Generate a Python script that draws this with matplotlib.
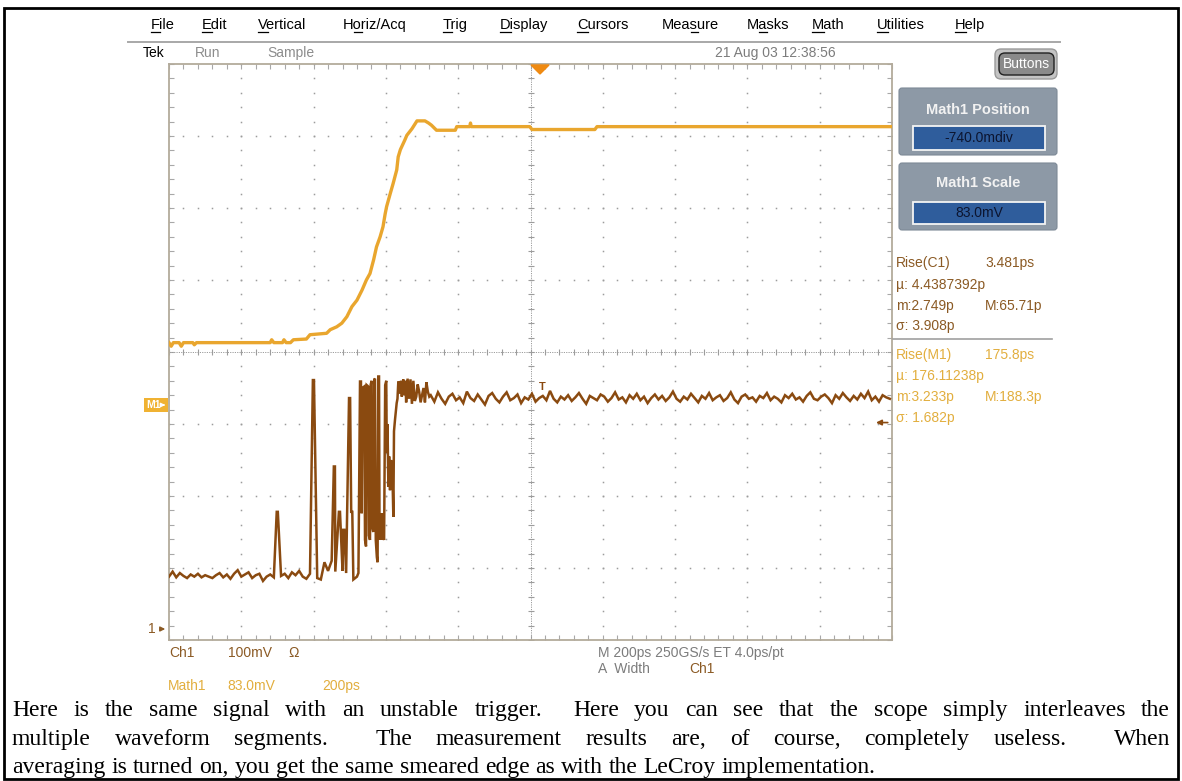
import re
import numpy as np
import matplotlib
matplotlib.use('Agg')
import matplotlib.pyplot as plt
from matplotlib.patches import Rectangle, FancyBboxPatch, Polygon
from matplotlib.font_manager import FontProperties

W, H = 1182, 781

# ---------------- data (divisions) ----------------
# Math1 (averaged, yellow) trace
math1_x = [0.00, 0.03, 0.06, 0.14, 0.17, 0.20, 0.33, 0.35, 0.38, 1.40,
           1.42, 1.45, 1.57, 1.59, 1.62, 1.68, 1.72, 1.90, 1.95, 2.18,
           2.23, 2.32, 2.39, 2.46, 2.53, 2.60, 2.67, 2.73, 2.78, 2.83,
           2.87, 2.92, 2.96, 2.99, 3.01, 3.06, 3.10, 3.15, 3.17, 3.20,
           3.26, 3.29, 3.36, 3.43, 3.54, 3.59, 3.63, 3.70, 3.96, 3.98,
           4.16, 4.17, 4.18, 4.99, 5.02, 5.89, 5.92, 10.0]
math1_y = [4.13, 4.08, 4.13, 4.13, 4.08, 4.13, 4.13, 4.10, 4.13, 4.13,
           4.17, 4.13, 4.13, 4.17, 4.13, 4.13, 4.17, 4.18, 4.24, 4.26,
           4.31, 4.35, 4.40, 4.49, 4.63, 4.72, 4.86, 5.00, 5.09, 5.28,
           5.46, 5.60, 5.74, 5.92, 6.02, 6.20, 6.34, 6.53, 6.71, 6.81,
           6.94, 7.01, 7.10, 7.21, 7.21, 7.18, 7.15, 7.08, 7.08, 7.13,
           7.13, 7.18, 7.13, 7.13, 7.09, 7.09, 7.13, 7.13]

# Ch1 (interleaved, brown) trace
ch1_step = 0.05
ch1_left_start = 0.0
ch1_left_y = [0.88, 0.95, 0.87, 0.93, 0.89, 0.86, 0.91, 0.88, 0.92, 0.87,
              0.90, 0.88, 0.86, 0.90, 0.93, 0.87, 0.91, 0.85, 0.92, 0.97,
              0.88, 0.91, 0.94, 0.86, 0.90, 0.92, 0.82, 0.88, 0.91, 0.87,
              0.93, 0.89, 0.92, 0.86, 0.94, 0.90, 0.96, 0.88, 0.85, 0.92,
              0.90, 0.86, 0.84, 1.08, 0.96, 1.10, 0.95, 0.92, 0.96, 0.93,
              0.95, 0.84, 0.88]
ch1_spike_x = [1.49, 1.99, 2.28, 2.35, 2.41, 2.49, 2.52]
ch1_spike_top = [1.78, 3.61, 2.41, 1.78, 1.53, 3.36, 1.78]
ch1_edge_x = [2.62, 2.642, 2.655, 2.665, 2.675, 2.70, 2.711, 2.725, 2.735, 2.757,
              2.765, 2.78, 2.79, 2.803, 2.81, 2.825, 2.84, 2.849, 2.86, 2.875,
              2.885, 2.895, 2.905, 2.912, 2.925, 2.935, 2.945, 2.955, 2.965, 2.975,
              2.99, 3.005, 3.012, 3.022, 3.034, 3.045, 3.057, 3.07, 3.09, 3.103,
              3.112, 3.126, 3.149, 3.16, 3.172, 3.19, 3.21, 3.22, 3.24, 3.25,
              3.27, 3.28, 3.30, 3.32, 3.34, 3.36, 3.38, 3.40, 3.42, 3.44,
              3.46, 3.48, 3.50, 3.52, 3.54, 3.56, 3.58, 3.60]
ch1_edge_y = [0.93, 3.59, 3.59, 1.76, 3.50, 3.52, 1.39, 1.30, 3.54, 3.52,
              1.45, 1.39, 3.55, 3.60, 1.57, 1.50, 3.62, 3.63, 1.39, 1.15,
              1.08, 3.66, 3.66, 1.39, 1.55, 1.76, 1.39, 1.76, 1.42, 1.39,
              3.54, 3.60, 2.60, 3.00, 2.13, 2.55, 2.08, 2.50, 2.32, 1.71,
              2.90, 3.06, 3.29, 3.35, 3.59, 3.42, 3.60, 3.38, 3.62, 3.40,
              3.60, 3.30, 3.63, 3.35, 3.62, 3.28, 3.60, 3.32, 3.38, 3.55,
              3.45, 3.30, 3.40, 3.50, 3.30, 3.58, 3.45, 3.38]
ch1_right_start = 3.62
ch1_right_y = [3.40, 3.31, 3.44, 3.35, 3.28, 3.38, 3.42, 3.33, 3.37, 3.29,
               3.45, 3.36, 3.32, 3.41, 3.34, 3.27, 3.39, 3.43, 3.35, 3.30,
               3.38, 3.44, 3.33, 3.36, 3.41, 3.29, 3.37, 3.34, 3.42, 3.31,
               3.36, 3.39, 3.33, 3.46, 3.35, 3.30, 3.38, 3.34, 3.40, 3.32,
               3.37, 3.43, 3.35, 3.28, 3.39, 3.36, 3.33, 3.41, 3.38, 3.31,
               3.36, 3.44, 3.34, 3.37, 3.30, 3.40, 3.35, 3.42, 3.33, 3.38,
               3.29, 3.36, 3.41, 3.34, 3.39, 3.32, 3.37, 3.45, 3.35, 3.31,
               3.38, 3.34, 3.42, 3.36, 3.30, 3.39, 3.35, 3.43, 3.33, 3.37,
               3.40, 3.32, 3.36, 3.44, 3.34, 3.29, 3.38, 3.41, 3.35, 3.37,
               3.31, 3.39, 3.36, 3.43, 3.33, 3.38, 3.35, 3.30, 3.40, 3.36,
               3.42, 3.34, 3.37, 3.31, 3.39, 3.44, 3.35, 3.33, 3.38, 3.41,
               3.36, 3.29, 3.40, 3.35, 3.43, 3.37, 3.32, 3.39, 3.34, 3.42,
               3.36, 3.45, 3.33, 3.38, 3.31, 3.40, 3.37, 3.35]

menu_items = ['File', 'Edit', 'Vertical', 'Horiz/Acq', 'Trig', 'Display',
              'Cursors', 'Measure', 'Masks', 'Math', 'Utilities', 'Help']
menu_underline = [0, 0, 0, 1, 0, 0, 0, 3, 1, 0, 0, 0]

meas_c1 = [('Rise(C1)', '3.481ps'), ('µ: 4.4387392p', ''),
           ('m:2.749p', 'M:65.71p'), ('σ: 3.908p', '')]
meas_m1 = [('Rise(M1)', '175.8ps'), ('µ: 176.11238p', ''),
           ('m:3.233p', 'M:188.3p'), ('σ: 1.682p', '')]

para_lines = [
    "Here is the same signal with an unstable trigger.  Here you can see that the scope simply interleaves the",
    "multiple waveform segments.  The measurement results are, of course, completely useless.  When",
    "averaging is turned on, you get the same smeared edge as with the LeCroy implementation.",
]

# ---------------- colours ----------------
YEL = '#e9a62e'
BRN = '#8a4a10'
BRN_T = '#8b5a24'
YEL_T = '#e2ae3e'
GRID = '#9c9c9c'
GRAY_T = '#7c7c7c'

fig = plt.figure(figsize=(W / 100, H / 100), dpi=100)
fig.patch.set_facecolor('white')

# ---------------- graticule ----------------
ax = fig.add_axes([169 / W, 1 - 640 / H, 723 / W, 576 / H])
ax.set_xlim(0, 10)
ax.set_ylim(0, 8)
ax.set_facecolor('white')
for s in ax.spines.values():
    s.set_color('#b3ab9b')
    s.set_linewidth(1.3)
ax.set_xticks(np.arange(0, 10.01, 1))
ax.set_xticks(np.arange(0, 10.01, 0.2), minor=True)
ax.set_yticks(np.arange(0, 8.01, 1))
ax.set_yticks(np.arange(0, 8.01, 0.2), minor=True)
ax.tick_params(which='both', direction='in', top=True, right=True, bottom=True,
               left=True, length=3.5, width=0.8, color='#a8a8a8',
               labelbottom=False, labelleft=False)

fx = np.arange(0, 10.001, 0.2)
fy = np.arange(0, 8.001, 0.2)
for gy in [1, 2, 3, 5, 6, 7]:
    ax.plot(fx, np.full_like(fx, gy), ls='none', marker='s', ms=1.1, mew=0, color=GRID)
for gx in [1, 2, 3, 4, 6, 7, 8, 9]:
    ax.plot(np.full_like(fy, gx), fy, ls='none', marker='s', ms=1.1, mew=0, color=GRID)
ax.axhline(4, color=GRID, lw=0.7, ls=(0, (1.2, 1.2)))
ax.axvline(5, color=GRID, lw=0.7, ls=(0, (1.2, 1.2)))
ax.plot(fx, np.full_like(fx, 4), ls='none', marker='|', ms=4.5, mew=0.8, color=GRID)
ax.plot(np.full_like(fy, 5), fy, ls='none', marker='_', ms=4.5, mew=0.8, color=GRID)

# Ch1 trace assembly
left_x = ch1_left_start + ch1_step * np.arange(len(ch1_left_y))
pts = []
for x, y in zip(left_x, ch1_left_y):
    if any(sx - 0.001 < x < sx + 0.016 for sx in ch1_spike_x):
        continue
    pts.append((x, y))
for sx, st in zip(ch1_spike_x, ch1_spike_top):
    pts += [(sx, st), (sx + 0.015, st)]
pts.sort()
pts += list(zip(ch1_edge_x, ch1_edge_y))
right_x = ch1_right_start + ch1_step * np.arange(len(ch1_right_y))
pts += list(zip(right_x, ch1_right_y))
px_, py_ = zip(*pts)
ax.plot(px_, py_, color=BRN, lw=1.8, solid_joinstyle='miter', zorder=4)

ax.plot(math1_x, math1_y, color=YEL, lw=2.4, zorder=5)

ax.text(5.16, 3.52, 'T', color=BRN, fontsize=8, fontweight='bold',
        ha='center', va='center', family='Liberation Sans', zorder=6)
ax.annotate('', xy=(9.74, 3.02), xytext=(9.98, 3.02),
            arrowprops=dict(arrowstyle='-|>', color=BRN, lw=1.2, mutation_scale=8))

# ---------------- overlay (pixel coords) ----------------
ov = fig.add_axes([0, 0, 1, 1], zorder=5)
ov.set_xlim(0, W)
ov.set_ylim(H, 0)
ov.axis('off')

ov.add_patch(Rectangle((4, 8), 1174, 771, fill=False, ec='black', lw=2))
ov.plot([128, 1060], [42, 42], color='#a8a8a8', lw=1.4)

fig.canvas.draw()
renderer = fig.canvas.get_renderer()


def tw(s, fp):
    w, h, d = renderer.get_text_width_height_descent(s, fp, ismath=False)
    return w


menu_fp = FontProperties(family='Liberation Sans', size=10.5)
menu_x = [151, 202, 258, 343, 443, 500, 577, 662, 747, 812, 877, 955]
for name, x, ui in zip(menu_items, menu_x, menu_underline):
    ov.text(x, 29, name, fontproperties=menu_fp, color='black', va='baseline', ha='left')
    x0 = x + tw(name[:ui], menu_fp) if ui > 0 else x
    x1 = x + tw(name[:ui + 1], menu_fp)
    ov.plot([x0, x1], [31.5, 31.5], color='black', lw=0.9)

small_fp = FontProperties(family='Liberation Sans', size=10)
ov.text(143, 53, 'Tek', fontproperties=small_fp, color='black', va='center')
ov.text(195, 53, 'Run', fontproperties=small_fp, color='#8c8c8c', va='center')
ov.text(267, 53, 'Sample', fontproperties=small_fp, color='#8c8c8c', va='center')
ov.text(715, 53, '21 Aug 03 12:38:56', fontproperties=small_fp, color='#7c7c7c', va='center')

# trigger marker
ov.add_patch(Polygon([(531, 65), (549, 65), (540, 74)], closed=True, color='#ef8a12', zorder=6))

# Buttons
ov.add_patch(FancyBboxPatch((995, 49), 62, 30, boxstyle='round,pad=0,rounding_size=6',
                            fc='#c4c4c4', ec='#9a9a9a', lw=1))
ov.add_patch(FancyBboxPatch((999, 53), 55, 22, boxstyle='round,pad=0,rounding_size=6',
                            fc='#8a8a8a', ec='#202020', lw=1))
ov.text(1026, 64, 'Buttons', fontproperties=small_fp, color='white', ha='center', va='center')

# Math1 panels
title_fp = FontProperties(family='Liberation Sans', size=10.5, weight='bold')
for (top, bot, title, ty, itop, ibot, val) in [
        (88, 155, 'Math1 Position', 110, 126, 150, '-740.0mdiv'),
        (163, 230, 'Math1 Scale', 183, 202, 224, '83.0mV')]:
    ov.add_patch(FancyBboxPatch((899, top), 158, bot - top, boxstyle='round,pad=0,rounding_size=3',
                                fc='#8d99a6', ec='#7d8996', lw=0.8))
    ov.text(978, ty, title, fontproperties=title_fp, color='#f2f2f2', ha='center', va='center')
    ov.add_patch(Rectangle((913, itop), 132, ibot - itop, fc='#2f5d9c', ec='#f4f4f4', lw=1.3))
    ov.text(979, (itop + ibot) / 2, val, fontproperties=small_fp, color='#0c1530',
            ha='center', va='center')

# measurements
for rows, col, ys in [(meas_c1, BRN_T, [263, 285, 306, 326]),
                      (meas_m1, YEL_T, [355, 376, 397, 418])]:
    for (a, b), y in zip(rows, ys):
        ov.text(896, y, a, fontproperties=small_fp, color=col, va='center')
        if b:
            ov.text(985, y, b, fontproperties=small_fp, color=col, va='center')
ov.plot([893, 1052], [339, 339], color='#a0a0a0', lw=1.2)

# left markers
ov.add_patch(Rectangle((144, 398), 24, 14, fc='#f0b232', ec='none'))
ov.text(146, 405.5, 'M1', fontproperties=FontProperties(family='Liberation Sans', size=7.5,
        weight='bold'), color='white', va='center')
ov.annotate('', xy=(168, 405), xytext=(160, 405),
            arrowprops=dict(arrowstyle='-|>', color='white', lw=1, mutation_scale=6))
ov.text(148, 629, '1', fontproperties=small_fp, color=BRN_T, va='center')
ov.annotate('', xy=(168, 629), xytext=(157, 629),
            arrowprops=dict(arrowstyle='-|>', color=BRN_T, lw=1, mutation_scale=7))

# bottom readouts
ov.text(169, 653, 'Ch1', fontproperties=small_fp, color=BRN_T, va='center')
ov.text(228, 653, '100mV', fontproperties=small_fp, color=BRN_T, va='center')
ov.text(288, 653, 'Ω', fontproperties=small_fp, color=BRN_T, va='center')
ov.text(598, 653, 'M 200ps 250GS/s ET 4.0ps/pt', fontproperties=small_fp, color=GRAY_T, va='center')
ov.text(598, 669, 'A  Width', fontproperties=small_fp, color=GRAY_T, va='center')
ov.text(689, 669, 'Ch1', fontproperties=small_fp, color=BRN_T, va='center')
ov.text(168, 686, 'Math1', fontproperties=small_fp, color=YEL_T, va='center')
ov.text(227, 686, '83.0mV', fontproperties=small_fp, color=YEL_T, va='center')
ov.text(322, 686, '200ps', fontproperties=small_fp, color=YEL_T, va='center')

# paragraph (justified)
para_fp = FontProperties(family='Liberation Serif', size=17)
line_y = [716, 745, 773]
X0, X1 = 12, 1170
for i, (line, y) in enumerate(zip(para_lines, line_y)):
    words = re.findall(r'\S+', line)
    spaces = [len(s) for s in re.findall(r' +', line)]
    widths = [tw(w_, para_fp) for w_ in words]
    if i < len(para_lines) - 1:
        unit = (X1 - X0 - sum(widths)) / sum(spaces)
    else:
        unit = tw(' ', para_fp)
    x = X0
    for j, w_ in enumerate(words):
        ov.text(x, y, w_, fontproperties=para_fp, color='black', va='baseline', ha='left')
        x += widths[j]
        if j < len(spaces):
            x += unit * spaces[j]

fig.savefig('out.png', dpi=100, facecolor='white')
